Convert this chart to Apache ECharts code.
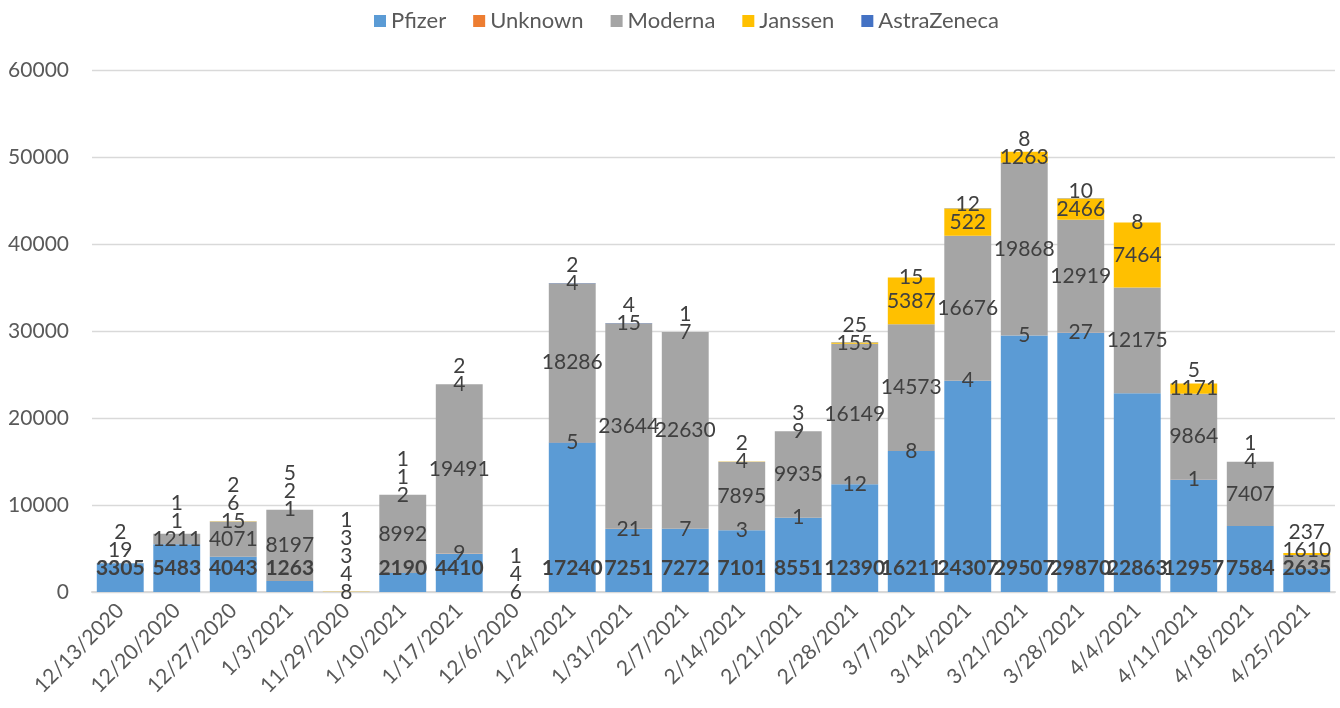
<!DOCTYPE html>
<html>
<head>
<meta charset="utf-8">
<title>Vaccine doses by week</title>
<script src="https://cdn.jsdelivr.net/npm/echarts@6/dist/echarts.min.js"></script>
<style>
  html, body { margin: 0; padding: 0; background: #fff; }
  #main { width: 1340px; height: 708px; }
</style>
</head>
<body>
<div id="main"></div>
<script>
// week labels, in the order the sheet had them
const weeks = ['12/13/2020', '12/20/2020', '12/27/2020', '1/3/2021', '11/29/2020', '1/10/2021',
  '1/17/2021', '12/6/2020', '1/24/2021', '1/31/2021', '2/7/2021', '2/14/2021', '2/21/2021',
  '2/28/2021', '3/7/2021', '3/14/2021', '3/21/2021', '3/28/2021', '4/4/2021', '4/11/2021',
  '4/18/2021', '4/25/2021'];

const pfizer = [3305, 5483, 4043, 1263, 8, 2190, 4410, 6, 17240, 7251, 7272, 7101, 8551,
  12390, 16211, 24307, 29507, 29870, 22863, 12957, 7584, 2635];
const unknown = [2, 1, 2, 5, 1, 1, 9, null, 5, 21, 7, 3, 1,
  12, 8, 4, 5, 27, null, 1, null, null];
const moderna = [19, 1211, 4071, 8197, 4, 8992, 19491, 4, 18286, 23644, 22630, 7895, 9935,
  16149, 14573, 16676, 19868, 12919, 12175, 9864, 7407, 1610];
const janssen = [null, 1, 15, 1, 3, 2, 4, 1, 4, 15, 7, 4, 9,
  155, 5387, 3150, 1263, 2466, 7464, 1171, 4, 237];
// text printed on the Janssen labels (3/14 shows 522 over a taller block)
const janssenLabels = ['', '1', '15', '1', '3', '2', '4', '1', '4', '15', '7', '4', '9',
  '155', '5387', '522', '1263', '2466', '7464', '1171', '4', '237'];
const astraZeneca = [null, null, 6, 2, 3, 1, 2, null, 2, 4, 1, 2, 3,
  25, 15, 12, 8, 10, 8, 5, 1, null];

const yMin = 0, yMax = 60000, yStep = 10000;

const names = ['Pfizer', 'Unknown', 'Moderna', 'Janssen', 'AstraZeneca'];
const colors = ['#5B9BD5', '#ED7D31', '#A5A5A5', '#FFC000', '#4472C4'];
const values = [pfizer, unknown, moderna, janssen, astraZeneca];

const FONT = 'Lato, "Open Sans", sans-serif';
const TXT = '#595959';
const LBL = '#404040';

function makeSeries(offsets) {
  return values.map((arr, s) => ({
    name: names[s],
    type: 'bar',
    stack: 'doses',
    barCategoryGap: '17%',
    itemStyle: { color: colors[s] },
    label: {
      show: true,
      position: 'inside',
      color: LBL,
      fontFamily: FONT,
      fontSize: 21,
      textBorderWidth: 0,
      formatter: s === 3 ? p => janssenLabels[p.dataIndex] : '{c}'
    },
    data: arr.map((v, i) => {
      if (v == null) return null;
      const item = { value: v, label: {} };
      if (offsets) item.label.offset = [0, offsets[s][i]];
      if (s === 0 && v >= 100) item.label.fontWeight = 'bold';
      return item;
    })
  }));
}

const option = {
  animation: false,
  backgroundColor: '#fff',
  textStyle: { fontFamily: FONT },
  legend: {
    top: 5,
    left: 369,
    itemWidth: 12,
    itemHeight: 12,
    itemGap: 27,
    icon: 'rect',
    textStyle: { color: TXT, fontSize: 22, fontFamily: FONT },
    data: names
  },
  grid: { left: 92, right: 5, top: 70.5, bottom: 116, containLabel: false },
  xAxis: {
    type: 'category',
    data: weeks,
    axisLine: { lineStyle: { color: '#D9D9D9', width: 2 } },
    axisTick: { show: false },
    axisLabel: { interval: 0, rotate: 45, margin: 15, color: TXT, fontSize: 21, fontFamily: FONT }
  },
  yAxis: {
    type: 'value',
    min: yMin,
    max: yMax,
    interval: yStep,
    axisLine: { show: false },
    axisTick: { show: false },
    axisLabel: { color: TXT, fontSize: 21, margin: 23, fontFamily: FONT, formatter: v => String(v) },
    splitLine: { lineStyle: { color: '#D9D9D9', width: 1.3 } }
  },
  series: makeSeries(null)
};

const chart = echarts.init(document.getElementById('main'));
chart.setOption(option);

// Spread the small labels the way Excel left them: labels that would collide
// get lifted above the highest label already placed in that column.
const px = v => chart.convertToPixel({ yAxisIndex: 0 }, v);
const base = px(0);
const order = [0, 2, 3, 4, 1];
const offsets = values.map(() => []);
weeks.forEach((w, i) => {
  let acc = 0;
  const mid = [];
  values.forEach((arr, s) => {
    const v = arr[i] || 0;
    mid[s] = px(acc + v / 2);
    acc += v;
  });
  const placed = [];
  order.forEach(s => {
    const v = values[s][i];
    if (v == null) return;
    let y = (s === 0 && v >= 100) ? base - 24 : mid[s];
    if (placed.some(p => Math.abs(p - y) < 14)) y = Math.min(...placed) - 18;
    placed.push(y);
    offsets[s][i] = y - mid[s];
  });
});

chart.setOption({ series: makeSeries(offsets) });
</script>
</body>
</html>
